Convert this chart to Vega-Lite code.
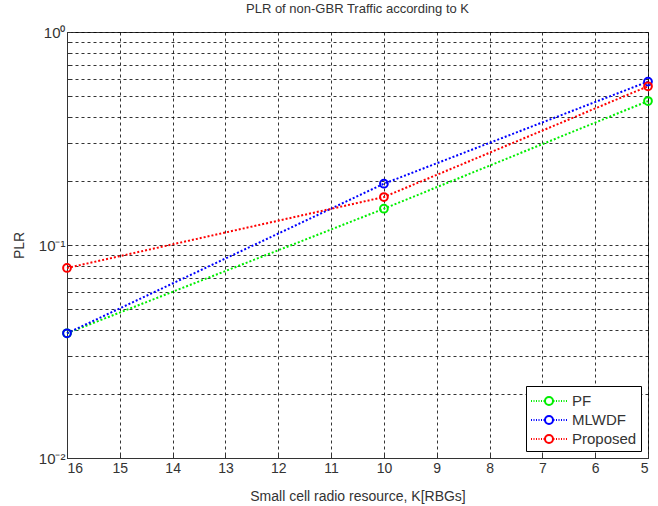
{
  "$schema": "https://vega.github.io/schema/vega-lite/v6.json",
  "autosize": "none",
  "width": 581,
  "height": 426,
  "padding": {"left": 67, "top": 32, "right": 10, "bottom": 48},
  "background": "white",
  "config": {
    "font": "Liberation Sans",
    "view": {"stroke": "#333333", "strokeWidth": 1}
  },
  "title": {
    "text": "PLR of non-GBR Traffic according to K",
    "fontSize": 13,
    "fontWeight": "normal",
    "color": "#333333",
    "offset": 9,
    "anchor": "middle"
  },
  "data": {
    "values": [
      {"K": 16, "PLR": 0.0385, "scheme": "PF"},
      {"K": 10, "PLR": 0.148, "scheme": "PF"},
      {"K": 5, "PLR": 0.474, "scheme": "PF"},
      {"K": 16, "PLR": 0.0385, "scheme": "MLWDF"},
      {"K": 10, "PLR": 0.194, "scheme": "MLWDF"},
      {"K": 5, "PLR": 0.585, "scheme": "MLWDF"},
      {"K": 16, "PLR": 0.078, "scheme": "Proposed"},
      {"K": 10, "PLR": 0.168, "scheme": "Proposed"},
      {"K": 5, "PLR": 0.556, "scheme": "Proposed"}
    ]
  },
  "encoding": {
    "x": {
      "field": "K",
      "type": "quantitative",
      "scale": {"domain": [5, 16], "reverse": true, "nice": false, "zero": false},
      "axis": {
        "title": "Small cell radio resource, K[RBGs]",
        "values": [5, 6, 7, 8, 9, 10, 11, 12, 13, 14, 15, 16],
        "format": "d",
        "labelFontSize": 14,
        "labelColor": "#333333",
        "titleFontSize": 14,
        "titleFontWeight": "normal",
        "titleColor": "#333333",
        "titlePadding": 14,
        "labelPadding": 8,
        "tickSize": -5,
        "tickColor": "#333333",
        "domainColor": "#333333",
        "grid": true,
        "gridColor": "#000000",
        "gridDash": [3, 3],
        "gridOpacity": 0.8
      }
    },
    "y": {
      "field": "PLR",
      "type": "quantitative",
      "scale": {"type": "log", "domain": [0.01, 1], "nice": false},
      "axis": {
        "title": "PLR",
        "values": [0.01, 0.02, 0.03, 0.04, 0.05, 0.06, 0.07, 0.08, 0.09, 0.1, 0.2, 0.3, 0.4, 0.5, 0.6, 0.7, 0.8, 0.9, 1],
        "labelExpr": "datum.value == 1 ? '10⁰' : datum.value == 0.1 ? '10⁻¹' : datum.value == 0.01 ? '10⁻²' : ''",
        "labelFontSize": 15,
        "labelColor": "#333333",
        "titleFontSize": 14,
        "titleFontWeight": "normal",
        "titleColor": "#333333",
        "titlePadding": 12,
        "labelPadding": 6,
        "tickSize": -4,
        "tickColor": "#333333",
        "domainColor": "#333333",
        "grid": true,
        "gridColor": "#000000",
        "gridDash": [3, 3],
        "gridOpacity": 0.8
      }
    },
    "color": {
      "field": "scheme",
      "type": "nominal",
      "scale": {"domain": ["PF", "MLWDF", "Proposed"], "range": ["#00ee00", "#0000ff", "#ff0000"]},
      "legend": {
        "title": null,
        "orient": "bottom-right",
        "offset": 7,
        "strokeColor": "#000000",
        "fillColor": "#ffffff",
        "padding": 4,
        "labelFontSize": 15,
        "labelColor": "#333333",
        "labelOffset": 20,
        "rowPadding": 0,
        "symbolType": "M-1,0H-0.9M-0.75,0H-0.65M-0.5,0H-0.4M-0.25,0H-0.15M0,0H0.1M0.25,0H0.35M1.25,0H1.35M1.5,0H1.6M1.75,0H1.85M2,0H2.1M2.25,0H2.35M2.5,0H2.6M1.2,0A0.4,0.4 0 1,1 0.4,0A0.4,0.4 0 1,1 1.2,0Z",
        "symbolSize": 400,
        "symbolFillColor": "transparent",
        "symbolStrokeWidth": 2
      }
    }
  },
  "layer": [
    {
      "mark": {"type": "line", "strokeDash": [2, 2], "strokeWidth": 2}
    },
    {
      "mark": {"type": "point", "shape": "circle", "filled": false, "size": 60, "strokeWidth": 2, "opacity": 1}
    }
  ]
}
